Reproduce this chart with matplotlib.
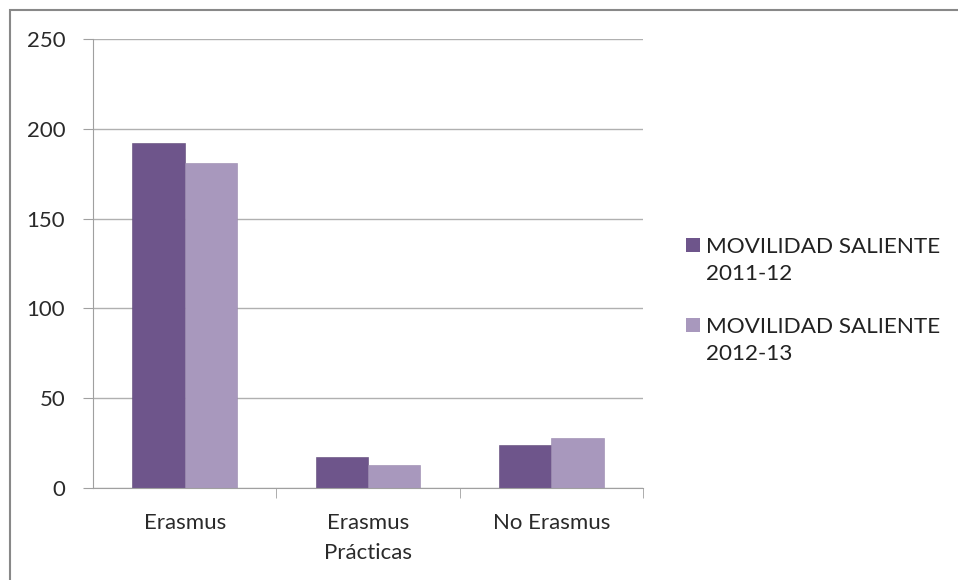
import numpy as np
import matplotlib.pyplot as plt
from matplotlib.patches import Rectangle

categories = ["Erasmus", "Erasmus\nPrácticas", "No Erasmus"]
series_names = [("MOVILIDAD SALIENTE", "2011-12"), ("MOVILIDAD SALIENTE", "2012-13")]
values_2011 = [192, 17, 24]
values_2012 = [181, 13, 28]
colors = ["#6e558b", "#a898bd"]

plt.rcParams["font.family"] = ["Lato", "DejaVu Sans"]

W, H = 958, 580
fig = plt.figure(figsize=(W / 100, H / 100), dpi=100)
fig.patches.append(Rectangle((10 / W, -0.1), 1.2, 1 - 10 / H + 0.1,
                             transform=fig.transFigure, facecolor="none",
                             edgecolor="#888888", linewidth=1.5))

ax = fig.add_axes([93 / W, 1 - 488 / H, 550 / W, 449 / H])
x = np.arange(len(categories))
w = 0.285
ax.bar(x - w / 2, values_2011, w, color=colors[0], edgecolor="#5e4878", linewidth=0.4)
ax.bar(x + w / 2, values_2012, w, color=colors[1], edgecolor="#9888ad", linewidth=0.4)

ax.set_xlim(-0.5, 2.5)
ax.set_ylim(0, 250)
ax.set_yticks(range(0, 251, 50))
ax.yaxis.grid(True, color="#b0b0b0", linewidth=1)
ax.set_axisbelow(True)
for s in ["top", "right"]:
    ax.spines[s].set_visible(False)
for s in ["left", "bottom"]:
    ax.spines[s].set_color("#a0a0a0")
ax.set_xticks(x)
ax.set_xticklabels(categories, linespacing=1.65)
ax.set_xticks([0.5, 1.5, 2.5], minor=True)
ax.tick_params(axis="x", which="major", length=0, pad=18, labelsize=16, colors="#2a2a2a")
ax.tick_params(axis="x", which="minor", length=7, color="#a0a0a0")
ax.tick_params(axis="y", length=7, color="#a0a0a0", labelsize=16, colors="#2a2a2a", pad=13)

# legend, drawn by hand so the swatch sits on the first text line
for i, (c, (line1, line2)) in enumerate(zip(colors, series_names)):
    y0 = 238 + 80 * i
    fig.patches.append(Rectangle((686 / W, 1 - (y0 + 14) / H), 14 / W, 14 / H,
                                 transform=fig.transFigure, facecolor=c, edgecolor="none"))
    fig.text(706 / W, 1 - (y0 + 15) / H, line1, fontsize=16.2, color="#222222", va="baseline")
    fig.text(706 / W, 1 - (y0 + 42) / H, line2, fontsize=16.2, color="#222222", va="baseline")

fig.savefig("out.png", dpi=100)
